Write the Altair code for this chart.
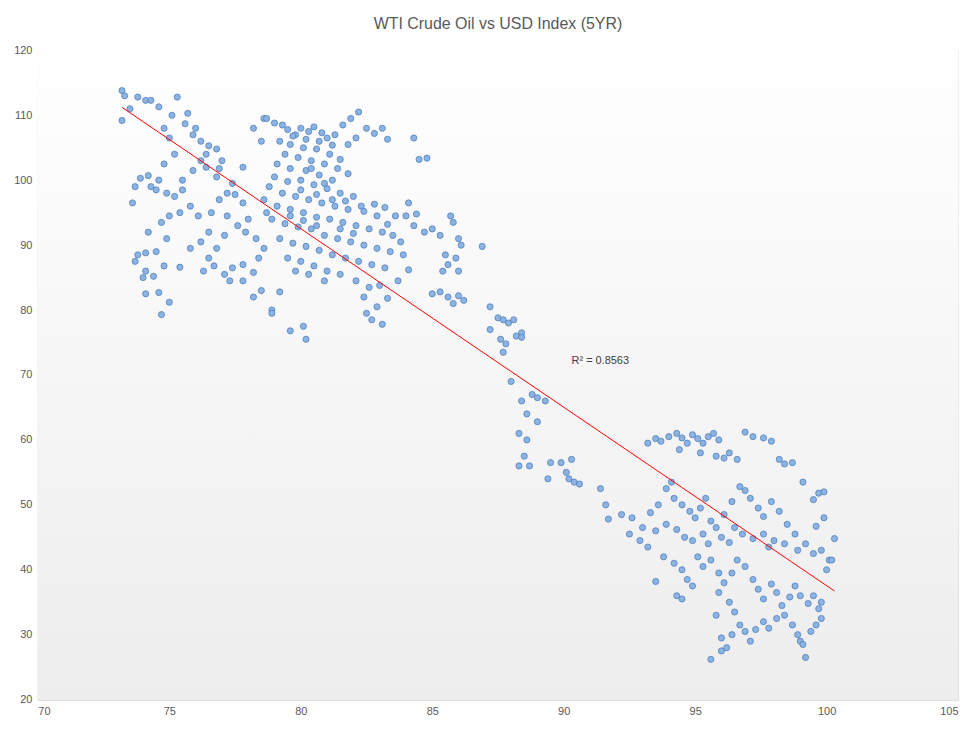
import altair as alt
import pandas as pd

# (USD index, WTI crude) pairs, by region
left_group = [(73.2,113.8),(73.3,113),(73.2,109.2),(73.5,111),(73.8,112.8),(74.1,112.3),(74.3,112.3),(74.6,111.3),
    (75.3,112.8),(75.1,110),(75.7,110.3),(75.6,108.7),(76,108),(75.9,107),(76.2,106),(76.5,105.3),(76.8,104.8),
    (76.4,104),(77,103),(74.8,108),(75,106.5),(75.2,104),(74.8,102.5),(74.6,100),(74.3,99),(73.7,99),(73.9,100.3),
    (74.2,100.7),(74.5,98.5),(74.9,98),(75.2,97.5),(75.5,98.5),(75.8,96),(75.4,95),(75.0,94.5),(74.7,93.5),(74.2,92),
    (73.8,88.5),(73.7,87.5),(74.1,88.8),(74.5,89),(74.1,86),(74,85),(74.4,85.2),(74.8,86.8),(74.1,82.5),(74.6,82.7),
    (74.7,79.3),(75,81.2),(75.4,86.6),(75.8,89.5),(76.2,90.5),(76.5,92),(76.1,94.5),(76.6,95),(76.9,97),(77.2,98),
    (77.4,99.5),(76.8,100.5),(76.4,102),(76.9,101.8),(77.5,97.8),(77.8,96.5),(77.2,94.5),(77.6,93),(77.1,91.5),
    (76.8,89.5),(76.5,88),(76.3,86),(76.7,86.8),(77.1,85.5),(77.4,86.5),(77.8,87),(77.3,84.5),(77.8,84.5),(78.2,85.8),
    (78.4,88),(78.6,89.5),(78.3,91),(77.9,92),(78,94),(78.6,97),(78.7,95),(78.2,82),(78.5,83),(78.9,80),(78.9,79.5),
    (79.2,82.8),(77.8,102),(78.5,106),(78.2,108),(78.6,109.5),(75.5,100),(75.9,101.5),(76.2,103),(73.6,96.5),(74.9,91)]

dense_group = [(78.7,109.5),(79,108.8),(79.3,108.5),(79.5,107.8),(79.8,107),(80,108),(80.3,107.5),(80.5,108.2),
    (80.8,107.3),(81,106.5),(81.3,107),(81.6,108.5),(81.9,109.5),(82.2,110.5),(82.5,108),(82.8,107.2),(83.1,108),
    (83.3,106.3),(82.1,106.5),(81.8,105.5),(79.2,106),(79.6,105.5),(80.1,105),(80.6,104.8),(81.1,104),(81.5,103.2),
    (79.4,104),(79.9,103.5),(80.4,103),(80.9,102.5),(81.4,101.8),(81.8,101),(79.1,102.5),(79.6,101.8),(80.2,101.5),
    (80.7,100.8),(81.2,100),(79,100.5),(79.5,99.8),(80,100),(80.5,99.3),(81,98.7),(81.5,98),(82,97.5),(78.8,99),
    (79.3,98),(79.8,97.5),(80.3,97),(80.8,96.5),(81.3,96),(81.8,95.5),(82.3,96),(82.8,96.3),(83.2,95.8),(83.6,94.5),
    (79.1,96),(79.6,95.5),(80.1,95),(80.6,94.3),(81.1,94),(81.6,93.5),(82.1,93),(82.6,92.5),(83.1,92),(83.5,91.5),
    (78.9,94),(79.4,93.3),(79.9,92.8),(80.4,92.5),(80.9,91.5),(81.4,91),(81.9,90.5),(82.4,90),(82.9,89.5),(83.4,89),
    (79.2,91),(79.7,90.3),(80.2,89.8),(80.7,89.2),(81.2,88.5),(81.7,88),(82.2,87.5),(82.7,87),(83.2,86.5),(79.5,88),
    (80,87.5),(80.5,86.8),(81,86),(81.5,85.5),(79.8,86),(80.3,85.5),(80.9,84.5),(82.1,84.5),(82.6,83.5),(82.4,82),
    (83,83.8),(83.3,81.8),(82.5,79.5),(82.7,78.5),(83.1,77.8),(82.9,80.5),(80.1,77.5),(80.2,75.5),(79.6,76.8),
    (79.7,106.8),(80.2,106.3),(80.7,106),(81.2,105.4),(80.4,101.8),(80.9,99.5),(80.0,98.5),(80.6,97.8),(81.2,97),
    (81.7,96.8),(82.4,95.2),(82.9,94.5),(83.3,93.2),(82.0,91.8),(81.5,92.5),(80.6,93),(80.1,93.8),(79.6,94.5),
    (84.3,106.5),(84.5,103.2),(84.8,103.4),(84.1,96.5),(84,94.5),(84.3,93),(84.7,92),(83.8,90.5),(83.9,88.5),
    (84.1,86.2),(83.7,84.5),(84.4,94.8)]

middle_group = [(85,92.5),(85.3,91.5),(85.7,94.5),(85.8,93.5),(86,91),(86.1,90),(85.5,88.5),(85.9,88),(85.6,87),
    (85.4,86),(86,86),(85,82.5),(85.3,82.8),(85.6,82),(85.8,81),(86,82.2),(86.2,81.5),(86.9,89.8),(87.2,80.5),
    (87.2,77),(87.5,78.8),(87.7,78.5),(87.9,78),(88.1,78.5),(87.6,75.5),(87.8,74.8),(87.7,73.5),(88.2,76),(88.4,76.5),
    (88.4,75.8),(88,69),(88.4,66),(88.6,64),(88.8,67),(89,66.5),(89.3,66),(88.3,61),(88.6,60),(88.5,57.5),(88.3,56),
    (88.7,56),(89.0,62.8),(89.5,56.5),(89.4,54),(89.9,56.5),(90.1,55),(90.3,57),(90.2,54),(90.4,53.5),(90.6,53.2),
    (91.4,52.5),(91.6,50),(91.7,47.8)]

right_group = [(93.2,59.5),(93.5,60.2),(93.7,59.8),(94,60.5),(94.3,61),(94.5,60.3),(94.7,59.5),(94.9,60.8),
    (95.1,60.2),(95.3,59.5),(95.5,60.5),(95.7,61),(95.9,60),(94.4,58.5),(95.2,58),(95.8,57.5),(96.3,58),(96.6,57),
    (96.9,61.2),(97.2,60.5),(97.6,60.3),(97.9,59.8),(98.2,57),(98.4,56.3),(98.7,56.5),(96.1,57.2),(99.1,53.5),
    (99.7,51.8),(99.9,52),(99.5,50.8),(92.2,48.5),(92.6,48),(93,46.5),(93.3,48.8),(93.6,50),(93.9,52.5),(94.1,53.5),
    (94.2,51),(94.5,50),(94.8,49),(95,48),(95.2,49.5),(95.4,51),(95.6,47.5),(95.8,46.5),(96.1,48.5),(96.4,50.5),
    (96.7,52.8),(96.9,52.2),(97.1,51),(97.4,49.5),(97.6,48.2),(97.9,50.5),(98.2,49),(98.5,47),(98.8,45.5),(93.9,47),
    (94.3,46.2),(94.6,45),(94.9,44.5),(95.3,45.5),(95.5,44),(96,45),(96.3,44.2),(96.5,46.5),(96.8,45.5),(97.2,44.8),
    (97.6,45.5),(97.8,43.5),(98,44.5),(98.4,44),(98.9,43),(99.2,44),(99.5,42.5),(99.8,43),(100.1,41.5),(100.3,44.8),
    (99.9,48),(99.6,46.7),(92.5,45.5),(92.9,44.5),(93.2,43.5),(93.5,46),(93.8,42),(94.2,41),(94.5,40),(94.7,38.5),
    (94.9,37.5),(94.3,36),(94.5,35.5),(95.3,40.5),(95.6,41.5),(95.9,39.5),(96.1,38),(96.4,39.5),(96.6,41.5),
    (96.9,40.5),(97.2,38.5),(97.4,37),(97.6,35.5),(97.9,37.8),(98.1,36.5),(98.3,34.5),(98.6,35.8),(98.8,37.5),
    (99,36),(99.3,34.8),(99.5,36),(99.8,35),(100,40),(100.2,41.5),(95.1,42),(93.5,38.2),(95.9,36.5),(96.3,35),
    (95.6,26.2),(96,27.5),(96.2,28),(96,29.5),(96.4,30),(96.7,31.5),(96.9,30.5),(97.1,29),(97.3,30.8),(97.6,32),
    (97.8,31),(98.1,32.5),(98.4,33),(98.7,31.5),(98.9,30),(99,29),(99.1,28.5),(99.2,26.5),(99.4,30.5),(99.6,31.5),
    (99.8,32.5),(99.7,34),(95.8,33),(96.5,33.5)]

points = left_group + dense_group + middle_group + right_group
df = pd.DataFrame(points, columns=['usd', 'wti'])

W, H = 924, 652

xscale = alt.Scale(domain=[70, 105], nice=False, zero=False)
yscale = alt.Scale(domain=[20, 120], nice=False, zero=False)

background = alt.Chart(df).mark_rect(
    color=alt.Gradient(gradient='linear', x1=0, y1=0, x2=0, y2=1,
                       stops=[alt.GradientStop(color='#ffffff', offset=0),
                              alt.GradientStop(color='#ededed', offset=1)])
).encode(x=alt.value(0), x2=alt.value(W), y=alt.value(0), y2=alt.value(H))

pts = alt.Chart(df).mark_circle(
    size=38, color='#8db3e2', opacity=1, stroke='#4f81bd', strokeWidth=0.8
).encode(
    alt.X('usd:Q', scale=xscale,
          axis=alt.Axis(values=list(range(70, 106, 5)), title=None, grid=True)),
    alt.Y('wti:Q', scale=yscale,
          axis=alt.Axis(values=list(range(20, 121, 10)), title=None, grid=True)),
)

trend = alt.Chart(df).mark_line(color='#ff0000', strokeWidth=1).transform_regression(
    'usd', 'wti', extent=[73.2, 100.3]
).encode(x=alt.X('usd:Q', scale=xscale), y=alt.Y('wti:Q', scale=yscale))

r2 = alt.Chart(pd.DataFrame({'usd': [90.3], 'wti': [72.2], 't': ['R² = 0.8563']})).mark_text(
    align='left', fontSize=11, color='#404040', font='Liberation Sans'
).encode(x=alt.X('usd:Q', scale=xscale), y=alt.Y('wti:Q', scale=yscale), text='t:N')

chart = alt.layer(background, pts, trend, r2).properties(
    width=W, height=H,
    autosize=alt.AutoSizeParams(type='none'),
    padding={'left': 30, 'top': 41, 'right': 10, 'bottom': 30},
    title=alt.Title('WTI Crude Oil vs USD Index (5YR)', fontSize=16, fontWeight='normal',
                    color='#595959', font='Liberation Sans', offset=12),
).configure_axis(
    domain=False, ticks=False, gridColor='#d9d9d9', labelColor='#595959',
    labelFontSize=11, labelFont='Liberation Sans', labelPadding=6
).configure_view(stroke='#d9d9d9')

chart.save('out.html', embed_options={'renderer': 'svg', 'actions': False})
